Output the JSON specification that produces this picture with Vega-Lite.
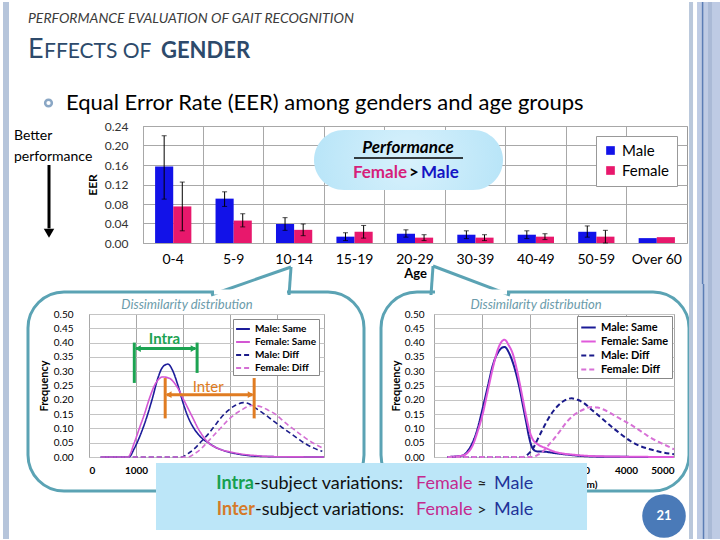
{
"$schema": "https://vega.github.io/schema/vega-lite/v6.json",
"background": "white",
"padding": {"left": 2, "top": 0, "right": 0, "bottom": 0},
"config": {"font": "Lato", "view": {"stroke": "#9A9A9A"}, "axis": {"domain": false, "ticks": false, "labelColor": "#000", "titleColor": "#000", "gridColor": "#B0B0B0"}},
"datasets": {
"eer": [
{"age":"0-4","g":"Male","eer":0.157,"lo":0.09,"hi":0.22},{"age":"0-4","g":"Female","eer":0.075,"lo":0.025,"hi":0.125},
{"age":"5-9","g":"Male","eer":0.091,"lo":0.075,"hi":0.105},{"age":"5-9","g":"Female","eer":0.046,"lo":0.033,"hi":0.06},
{"age":"10-14","g":"Male","eer":0.039,"lo":0.026,"hi":0.052},{"age":"10-14","g":"Female","eer":0.027,"lo":0.015,"hi":0.039},
{"age":"15-19","g":"Male","eer":0.013,"lo":0.005,"hi":0.021},{"age":"15-19","g":"Female","eer":0.023,"lo":0.01,"hi":0.036},
{"age":"20-29","g":"Male","eer":0.019,"lo":0.012,"hi":0.027},{"age":"20-29","g":"Female","eer":0.011,"lo":0.005,"hi":0.017},
{"age":"30-39","g":"Male","eer":0.017,"lo":0.009,"hi":0.025},{"age":"30-39","g":"Female","eer":0.011,"lo":0.005,"hi":0.017},
{"age":"40-49","g":"Male","eer":0.017,"lo":0.009,"hi":0.025},{"age":"40-49","g":"Female","eer":0.013,"lo":0.007,"hi":0.019},
{"age":"50-59","g":"Male","eer":0.023,"lo":0.012,"hi":0.035},{"age":"50-59","g":"Female","eer":0.013,"lo":0.0,"hi":0.026},
{"age":"Over 60","g":"Male","eer":0.010},{"age":"Over 60","g":"Female","eer":0.012}
],
"left": [
{"s":"Male: Same","d":250,"f":0},{"s":"Male: Same","d":850,"f":0},{"s":"Male: Same","d":964,"f":0.03},{"s":"Male: Same","d":1100,"f":0.08},{"s":"Male: Same","d":1250,"f":0.15},{"s":"Male: Same","d":1357,"f":0.21},{"s":"Male: Same","d":1464,"f":0.275},{"s":"Male: Same","d":1570,"f":0.315},{"s":"Male: Same","d":1679,"f":0.325},{"s":"Male: Same","d":1786,"f":0.3},{"s":"Male: Same","d":1893,"f":0.25},{"s":"Male: Same","d":2000,"f":0.19},{"s":"Male: Same","d":2107,"f":0.14},{"s":"Male: Same","d":2214,"f":0.105},{"s":"Male: Same","d":2321,"f":0.08},{"s":"Male: Same","d":2429,"f":0.062},{"s":"Male: Same","d":2536,"f":0.05},{"s":"Male: Same","d":2679,"f":0.035},{"s":"Male: Same","d":2821,"f":0.025},{"s":"Male: Same","d":3000,"f":0.016},{"s":"Male: Same","d":3179,"f":0.01},{"s":"Male: Same","d":3536,"f":0.003},{"s":"Male: Same","d":4000,"f":0.001},{"s":"Male: Same","d":5000,"f":0},
{"s":"Female: Same","d":250,"f":0},{"s":"Female: Same","d":830,"f":0},{"s":"Female: Same","d":964,"f":0.05},{"s":"Female: Same","d":1071,"f":0.1},{"s":"Female: Same","d":1179,"f":0.15},{"s":"Female: Same","d":1286,"f":0.205},{"s":"Female: Same","d":1393,"f":0.25},{"s":"Female: Same","d":1482,"f":0.272},{"s":"Female: Same","d":1571,"f":0.28},{"s":"Female: Same","d":1714,"f":0.275},{"s":"Female: Same","d":1800,"f":0.262},{"s":"Female: Same","d":1893,"f":0.24},{"s":"Female: Same","d":2000,"f":0.205},{"s":"Female: Same","d":2107,"f":0.17},{"s":"Female: Same","d":2214,"f":0.135},{"s":"Female: Same","d":2321,"f":0.1},{"s":"Female: Same","d":2429,"f":0.072},{"s":"Female: Same","d":2536,"f":0.05},{"s":"Female: Same","d":2679,"f":0.035},{"s":"Female: Same","d":2821,"f":0.025},{"s":"Female: Same","d":3000,"f":0.018},{"s":"Female: Same","d":3179,"f":0.012},{"s":"Female: Same","d":3536,"f":0.005},{"s":"Female: Same","d":4000,"f":0.001},{"s":"Female: Same","d":5000,"f":0},
{"s":"Male: Diff","d":250,"f":0},{"s":"Male: Diff","d":1964,"f":0},{"s":"Male: Diff","d":2107,"f":0.012},{"s":"Male: Diff","d":2250,"f":0.03},{"s":"Male: Diff","d":2393,"f":0.055},{"s":"Male: Diff","d":2536,"f":0.08},{"s":"Male: Diff","d":2679,"f":0.11},{"s":"Male: Diff","d":2821,"f":0.14},{"s":"Male: Diff","d":2964,"f":0.163},{"s":"Male: Diff","d":3107,"f":0.18},{"s":"Male: Diff","d":3286,"f":0.19},{"s":"Male: Diff","d":3400,"f":0.186},{"s":"Male: Diff","d":3536,"f":0.172},{"s":"Male: Diff","d":3714,"f":0.152},{"s":"Male: Diff","d":3893,"f":0.13},{"s":"Male: Diff","d":4071,"f":0.108},{"s":"Male: Diff","d":4250,"f":0.087},{"s":"Male: Diff","d":4429,"f":0.066},{"s":"Male: Diff","d":4607,"f":0.046},{"s":"Male: Diff","d":4786,"f":0.031},{"s":"Male: Diff","d":4964,"f":0.02},
{"s":"Female: Diff","d":250,"f":0},{"s":"Female: Diff","d":2107,"f":0},{"s":"Female: Diff","d":2250,"f":0.012},{"s":"Female: Diff","d":2393,"f":0.03},{"s":"Female: Diff","d":2536,"f":0.055},{"s":"Female: Diff","d":2679,"f":0.08},{"s":"Female: Diff","d":2821,"f":0.105},{"s":"Female: Diff","d":2964,"f":0.13},{"s":"Female: Diff","d":3107,"f":0.15},{"s":"Female: Diff","d":3250,"f":0.165},{"s":"Female: Diff","d":3357,"f":0.175},{"s":"Female: Diff","d":3464,"f":0.18},{"s":"Female: Diff","d":3571,"f":0.179},{"s":"Female: Diff","d":3679,"f":0.175},{"s":"Female: Diff","d":3821,"f":0.163},{"s":"Female: Diff","d":3964,"f":0.15},{"s":"Female: Diff","d":4107,"f":0.13},{"s":"Female: Diff","d":4250,"f":0.11},{"s":"Female: Diff","d":4429,"f":0.088},{"s":"Female: Diff","d":4607,"f":0.066},{"s":"Female: Diff","d":4786,"f":0.047},{"s":"Female: Diff","d":4964,"f":0.032}
],
"right": [
{"s":"Male: Same","d":280,"f":0},{"s":"Male: Same","d":594,"f":0.005},{"s":"Male: Same","d":700,"f":0.02},{"s":"Male: Same","d":804,"f":0.05},{"s":"Male: Same","d":910,"f":0.1},{"s":"Male: Same","d":1014,"f":0.17},{"s":"Male: Same","d":1119,"f":0.245},{"s":"Male: Same","d":1224,"f":0.32},{"s":"Male: Same","d":1350,"f":0.37},{"s":"Male: Same","d":1469,"f":0.385},{"s":"Male: Same","d":1560,"f":0.365},{"s":"Male: Same","d":1643,"f":0.33},{"s":"Male: Same","d":1713,"f":0.29},{"s":"Male: Same","d":1783,"f":0.24},{"s":"Male: Same","d":1853,"f":0.18},{"s":"Male: Same","d":1923,"f":0.12},{"s":"Male: Same","d":1980,"f":0.07},{"s":"Male: Same","d":2028,"f":0.04},{"s":"Male: Same","d":2080,"f":0.025},{"s":"Male: Same","d":2133,"f":0.02},{"s":"Male: Same","d":2343,"f":0.018},{"s":"Male: Same","d":2500,"f":0.014},{"s":"Male: Same","d":2692,"f":0.01},{"s":"Male: Same","d":3042,"f":0.004},{"s":"Male: Same","d":3500,"f":0.001},{"s":"Male: Same","d":5000,"f":0},
{"s":"Female: Same","d":280,"f":0},{"s":"Female: Same","d":594,"f":0.005},{"s":"Female: Same","d":700,"f":0.015},{"s":"Female: Same","d":804,"f":0.04},{"s":"Female: Same","d":910,"f":0.09},{"s":"Female: Same","d":1014,"f":0.15},{"s":"Female: Same","d":1119,"f":0.23},{"s":"Female: Same","d":1224,"f":0.31},{"s":"Female: Same","d":1350,"f":0.385},{"s":"Female: Same","d":1469,"f":0.41},{"s":"Female: Same","d":1560,"f":0.39},{"s":"Female: Same","d":1643,"f":0.36},{"s":"Female: Same","d":1713,"f":0.315},{"s":"Female: Same","d":1783,"f":0.26},{"s":"Female: Same","d":1853,"f":0.2},{"s":"Female: Same","d":1923,"f":0.14},{"s":"Female: Same","d":1993,"f":0.09},{"s":"Female: Same","d":2063,"f":0.06},{"s":"Female: Same","d":2133,"f":0.048},{"s":"Female: Same","d":2203,"f":0.04},{"s":"Female: Same","d":2343,"f":0.03},{"s":"Female: Same","d":2483,"f":0.02},{"s":"Female: Same","d":2692,"f":0.012},{"s":"Female: Same","d":2902,"f":0.008},{"s":"Female: Same","d":3200,"f":0.004},{"s":"Female: Same","d":3600,"f":0.002},{"s":"Female: Same","d":5000,"f":0},
{"s":"Male: Diff","d":280,"f":0},{"s":"Male: Diff","d":1853,"f":0},{"s":"Male: Diff","d":1960,"f":0.01},{"s":"Male: Diff","d":2063,"f":0.03},{"s":"Male: Diff","d":2168,"f":0.065},{"s":"Male: Diff","d":2273,"f":0.1},{"s":"Male: Diff","d":2378,"f":0.133},{"s":"Male: Diff","d":2483,"f":0.16},{"s":"Male: Diff","d":2587,"f":0.18},{"s":"Male: Diff","d":2692,"f":0.195},{"s":"Male: Diff","d":2867,"f":0.205},{"s":"Male: Diff","d":2990,"f":0.2},{"s":"Male: Diff","d":3112,"f":0.19},{"s":"Male: Diff","d":3252,"f":0.17},{"s":"Male: Diff","d":3392,"f":0.15},{"s":"Male: Diff","d":3566,"f":0.125},{"s":"Male: Diff","d":3741,"f":0.1},{"s":"Male: Diff","d":3916,"f":0.077},{"s":"Male: Diff","d":4091,"f":0.056},{"s":"Male: Diff","d":4266,"f":0.04},{"s":"Male: Diff","d":4441,"f":0.03},{"s":"Male: Diff","d":4616,"f":0.022},{"s":"Male: Diff","d":4790,"f":0.015},{"s":"Male: Diff","d":5000,"f":0.01},
{"s":"Female: Diff","d":280,"f":0},{"s":"Female: Diff","d":2063,"f":0},{"s":"Female: Diff","d":2168,"f":0.008},{"s":"Female: Diff","d":2273,"f":0.02},{"s":"Female: Diff","d":2378,"f":0.04},{"s":"Female: Diff","d":2483,"f":0.06},{"s":"Female: Diff","d":2622,"f":0.09},{"s":"Female: Diff","d":2762,"f":0.122},{"s":"Female: Diff","d":2902,"f":0.145},{"s":"Female: Diff","d":3042,"f":0.16},{"s":"Female: Diff","d":3165,"f":0.17},{"s":"Female: Diff","d":3287,"f":0.175},{"s":"Female: Diff","d":3409,"f":0.173},{"s":"Female: Diff","d":3531,"f":0.166},{"s":"Female: Diff","d":3671,"f":0.154},{"s":"Female: Diff","d":3811,"f":0.14},{"s":"Female: Diff","d":3951,"f":0.127},{"s":"Female: Diff","d":4091,"f":0.114},{"s":"Female: Diff","d":4266,"f":0.095},{"s":"Female: Diff","d":4441,"f":0.075},{"s":"Female: Diff","d":4616,"f":0.058},{"s":"Female: Diff","d":4790,"f":0.044},{"s":"Female: Diff","d":5000,"f":0.027}
]
},
"resolve": {"scale": {"color": "independent", "strokeDash": "independent"}, "legend": {"color": "independent", "strokeDash": "independent"}},
"concat": [
{
"resolve": {"scale": {"color": "independent"}, "legend": {"color": "independent"}},
"concat": [
{
"width": 54, "height": 117,
"view": {"stroke": null},
"data": {"values": [{}]},
"layer": [
{"mark": {"type": "rect", "color": "#B6C5DB"}, "encoding": {"x": {"datum": -1.5926, "scale": {"domain": [0, 1], "nice": false}, "axis": null}, "x2": {"datum": -1.4815}, "y": {"datum": 0.4944, "scale": {"domain": [0, 0.24], "nice": false}, "axis": null}, "y2": {"datum": -0.121}}},
{"mark": {"type": "text", "text": "PERFORMANCE EVALUATION OF GAIT RECOGNITION", "align": "left", "fontSize": 14, "fontStyle": "italic", "color": "#3C3C3C"}, "encoding": {"x": {"datum": -1.1296}, "y": {"datum": 0.4595}}},
{"mark": {"type": "text", "text": "E", "align": "left", "baseline": "alphabetic", "fontSize": 27, "color": "#2D4A6B"}, "encoding": {"x": {"datum": -1.1296}, "y": {"datum": 0.3795}}},
{"mark": {"type": "text", "text": "FFECTS OF", "align": "left", "baseline": "alphabetic", "fontSize": 21, "color": "#2D4A6B"}, "encoding": {"x": {"datum": -0.8333}, "y": {"datum": 0.3795}}},
{"mark": {"type": "text", "text": "GENDER", "align": "left", "baseline": "alphabetic", "fontSize": 22, "fontWeight": "bold", "color": "#2D4A6B"}, "encoding": {"x": {"datum": 1.3333}, "y": {"datum": 0.3795}}},
{"mark": {"type": "point", "shape": "circle", "filled": false, "color": "#5A82AD", "strokeWidth": 2.5, "size": 45}, "encoding": {"x": {"datum": -0.75}, "y": {"datum": 0.2872}}},
{"mark": {"type": "text", "text": "Equal Error Rate (EER) among genders and age groups", "align": "left", "fontSize": 22, "color": "#000"}, "encoding": {"x": {"datum": -0.4259}, "y": {"datum": 0.2872}}},
{"mark": {"type": "text", "text": "Better", "align": "left", "fontSize": 14, "color": "#000"}, "encoding": {"x": {"datum": -1.3889}, "y": {"datum": 0.2195}}},
{"mark": {"type": "text", "text": "performance", "align": "left", "fontSize": 14, "color": "#000"}, "encoding": {"x": {"datum": -1.3889}, "y": {"datum": 0.1764}}},
{"mark": {"type": "rule", "color": "#000", "strokeWidth": 3}, "encoding": {"x": {"datum": -0.7407}, "y": {"datum": 0.16}, "y2": {"datum": 0.03}}},
{"mark": {"type": "point", "shape": "triangle-down", "filled": true, "color": "#000", "size": 110, "opacity": 1}, "encoding": {"x": {"datum": -0.7407}, "y": {"datum": 0.02}}}
]
},
{
"width": 544, "height": 117,
"layer": [
{
"data": {"name": "eer"},
"layer": [
{"mark": {"type": "bar"},
 "encoding": {
  "x": {"field": "age", "type": "nominal", "sort": ["0-4","5-9","10-14","15-19","20-29","30-39","40-49","50-59","Over 60"], "scale": {"paddingInner": 0, "paddingOuter": 0}, "axis": {"title": "Age", "orient": "bottom", "labelAngle": 0, "labelFontSize": 14, "labelPadding": 9, "titleFontSize": 13, "titleFontWeight": "bold", "titlePadding": 1, "grid": true, "gridColor": "#A8A8A8", "bandPosition": 0}},
  "xOffset": {"field": "g", "type": "nominal", "sort": ["Male","Female"], "scale": {"paddingInner": 0, "paddingOuter": 0.667}},
  "y": {"field": "eer", "type": "quantitative", "scale": {"domain": [0, 0.24], "nice": false}, "axis": {"orient": "left", "values": [0,0.04,0.08,0.12,0.16,0.2,0.24], "format": ".2f", "title": "EER", "titleFontSize": 12, "titleFontWeight": "bold", "titlePadding": 5, "labelFontSize": 12, "labelPadding": 15, "labelColor": "#333", "labelOverlap": false, "grid": true, "gridColor": "#A8A8A8"}},
  "color": {"field": "g", "type": "nominal", "sort": ["Male","Female"], "scale": {"domain": ["Male","Female"], "range": ["#1212E8","#E8186C"]}, "legend": {"title": null, "orient": "top-right", "offset": 10, "fillColor": "#FFFFFF", "strokeColor": "#999999", "padding": 7, "symbolType": "square", "symbolSize": 75, "labelFontSize": 15, "labelColor": "#000", "rowPadding": 4}}
 }},
{"mark": {"type": "rule", "color": "#000", "strokeWidth": 1},
 "encoding": {
  "x": {"field": "age", "type": "nominal", "sort": ["0-4","5-9","10-14","15-19","20-29","30-39","40-49","50-59","Over 60"], "axis": {"title": "Age", "orient": "bottom", "labelAngle": 0, "labelFontSize": 14, "labelPadding": 9, "titleFontSize": 13, "titleFontWeight": "bold", "titlePadding": 1, "grid": true, "gridColor": "#A8A8A8", "bandPosition": 0}},
  "xOffset": {"field": "g", "type": "nominal", "sort": ["Male","Female"]},
  "y": {"field": "lo", "type": "quantitative", "axis": {"orient": "left", "values": [0,0.04,0.08,0.12,0.16,0.2,0.24], "format": ".2f", "title": "EER", "titleFontSize": 12, "titleFontWeight": "bold", "titlePadding": 5, "labelFontSize": 12, "labelPadding": 15, "labelColor": "#333", "labelOverlap": false, "grid": true, "gridColor": "#A8A8A8"}}, "y2": {"field": "hi"}
 }},
{"mark": {"type": "tick", "color": "#000", "size": 5, "thickness": 1},
 "encoding": {
  "x": {"field": "age", "type": "nominal", "sort": ["0-4","5-9","10-14","15-19","20-29","30-39","40-49","50-59","Over 60"], "axis": {"title": "Age", "orient": "bottom", "labelAngle": 0, "labelFontSize": 14, "labelPadding": 9, "titleFontSize": 13, "titleFontWeight": "bold", "titlePadding": 1, "grid": true, "gridColor": "#A8A8A8", "bandPosition": 0}},
  "xOffset": {"field": "g", "type": "nominal", "sort": ["Male","Female"]},
  "y": {"field": "hi", "type": "quantitative", "axis": {"orient": "left", "values": [0,0.04,0.08,0.12,0.16,0.2,0.24], "format": ".2f", "title": "EER", "titleFontSize": 12, "titleFontWeight": "bold", "titlePadding": 5, "labelFontSize": 12, "labelPadding": 15, "labelColor": "#333", "labelOverlap": false, "grid": true, "gridColor": "#A8A8A8"}}
 }},
{"mark": {"type": "tick", "color": "#000", "size": 5, "thickness": 1},
 "encoding": {
  "x": {"field": "age", "type": "nominal", "sort": ["0-4","5-9","10-14","15-19","20-29","30-39","40-49","50-59","Over 60"], "axis": {"title": "Age", "orient": "bottom", "labelAngle": 0, "labelFontSize": 14, "labelPadding": 9, "titleFontSize": 13, "titleFontWeight": "bold", "titlePadding": 1, "grid": true, "gridColor": "#A8A8A8", "bandPosition": 0}},
  "xOffset": {"field": "g", "type": "nominal", "sort": ["Male","Female"]},
  "y": {"field": "lo", "type": "quantitative", "axis": {"orient": "left", "values": [0,0.04,0.08,0.12,0.16,0.2,0.24], "format": ".2f", "title": "EER", "titleFontSize": 12, "titleFontWeight": "bold", "titlePadding": 5, "labelFontSize": 12, "labelPadding": 15, "labelColor": "#333", "labelOverlap": false, "grid": true, "gridColor": "#A8A8A8"}}
 }}
]
},
{
"data": {"values": [{}]},
"layer": [
{"mark": {"type": "rect", "cornerRadius": 30, "fill": {"gradient": "radial", "x1": 0.5, "y1": 0.5, "x2": 0.5, "y2": 0.5, "r1": 0, "r2": 0.75, "stops": [{"offset": 0, "color": "#D8F1FC"}, {"offset": 1, "color": "#A9DFF6"}]}}, "encoding": {"x": {"datum": 2.829, "scale": {"domain": [0, 9], "nice": false}, "axis": null}, "x2": {"datum": 5.956}, "y": {"datum": 0.2318, "scale": {"domain": [0, 0.24], "nice": false}, "axis": null}, "y2": {"datum": 0.1087}}},
{"mark": {"type": "text", "text": "Performance", "fontSize": 17, "fontWeight": "bold", "fontStyle": "italic", "color": "#000"}, "encoding": {"x": {"datum": 4.384}, "y": {"datum": 0.1949}}},
{"mark": {"type": "rule", "color": "#000", "strokeWidth": 1.5}, "encoding": {"x": {"datum": 3.491}, "x2": {"datum": 5.294}, "y": {"datum": 0.1744}}},
{"mark": {"type": "text", "text": "Female", "align": "right", "fontSize": 17, "fontWeight": "bold", "color": "#D61F7B"}, "encoding": {"x": {"datum": 4.368}, "y": {"datum": 0.1436}}},
{"mark": {"type": "text", "text": ">", "fontSize": 17, "fontWeight": "bold", "color": "#000"}, "encoding": {"x": {"datum": 4.484}, "y": {"datum": 0.1436}}},
{"mark": {"type": "text", "text": "Male", "align": "left", "fontSize": 17, "fontWeight": "bold", "color": "#1414C4"}, "encoding": {"x": {"datum": 4.599}, "y": {"datum": 0.1436}}},
{"mark": {"type": "rule", "color": "#5BA3B4", "strokeWidth": 3}, "encoding": {"x": {"datum": 1.125}, "y": {"datum": -0.1067}, "x2": {"datum": 2.449}, "y2": {"datum": -0.0492}}},
{"mark": {"type": "rule", "color": "#5BA3B4", "strokeWidth": 3}, "encoding": {"x": {"datum": 2.449}, "y": {"datum": -0.0492}, "x2": {"datum": 2.416}, "y2": {"datum": -0.1067}}},
{"mark": {"type": "rule", "color": "#5BA3B4", "strokeWidth": 3}, "encoding": {"x": {"datum": 4.765}, "y": {"datum": -0.1067}, "x2": {"datum": 4.798}, "y2": {"datum": -0.0472}}},
{"mark": {"type": "rule", "color": "#5BA3B4", "strokeWidth": 3}, "encoding": {"x": {"datum": 4.798}, "y": {"datum": -0.0472}, "x2": {"datum": 6.072}, "y2": {"datum": -0.1067}}},
{"mark": {"type": "rect", "color": "#B9C7DB"}, "encoding": {"x": {"datum": 9.0337}, "x2": {"datum": 9.0999}, "y": {"datum": 0.4944}, "y2": {"datum": -0.121}}},
{"mark": {"type": "rect", "color": "#BECBE4"}, "encoding": {"x": {"datum": 9.166}, "x2": {"datum": 9.563}, "y": {"datum": 0.4944}, "y2": {"datum": -0.121}}},
{"mark": {"type": "rect", "color": "#AABAD6"}, "encoding": {"x": {"datum": 9.348}, "x2": {"datum": 9.414}, "y": {"datum": 0.4944}, "y2": {"datum": -0.121}}},
{"mark": {"type": "rule", "color": "#5B7DB5", "strokeWidth": 1.5}, "encoding": {"x": {"datum": 9.258}, "y": {"datum": 0.4944}, "y2": {"datum": -0.121}}}
]
}
],
"resolve": {"scale": {"x": "independent", "y": "independent"}}
}
],
"columns": 2, "bounds": "flush", "align": "each", "spacing": 0
},
{
"resolve": {"scale": {"color": "independent", "strokeDash": "independent"}, "legend": {"color": "independent", "strokeDash": "independent"}},
"concat": [
{
"width": 235, "height": 143,
"layer": [
{
"data": {"values": [{}]},
"layer": [
{"mark": {"type": "rect", "filled": false, "color": "#5BA3B4", "strokeWidth": 3, "cornerRadius": 36}, "encoding": {"x": {"datum": -1298, "scale": {"domain": [0, 5000], "nice": false}, "axis": null}, "x2": {"datum": 5851}, "y": {"datum": 0.5769, "scale": {"domain": [0, 0.5], "nice": false}, "axis": null}, "y2": {"datum": -0.1189}}},
{"mark": {"type": "rule", "color": "#FFFFFF", "strokeWidth": 5}, "encoding": {"x": {"datum": 2660}, "x2": {"datum": 4213}, "y": {"datum": 0.5769}}},
{"mark": {"type": "rect", "color": "#B6C5DB"}, "encoding": {"x": {"datum": -1830}, "x2": {"datum": -1702}, "y": {"datum": 0.6049}, "y2": {"datum": -0.2867}}},
{"mark": {"type": "text", "text": "Dissimilarity distribution", "fontSize": 13, "fontStyle": "italic", "color": "#6B9BAA"}, "encoding": {"x": {"datum": 2085}, "y": {"datum": 0.5315}}}
]
},
{
"data": {"name": "left"},
"mark": {"type": "line", "strokeWidth": 1.6, "interpolate": "monotone"},
"encoding": {
 "x": {"field": "d", "type": "quantitative", "scale": {"domain": [0, 5000], "nice": false}, "axis": {"orient": "bottom", "values": [0,1000,2000,3000,4000,5000], "format": "d", "title": "Dissimilarity (norm)", "titleFontSize": 10, "titleFontWeight": "bold", "labelFontSize": 10, "labelFontWeight": "bold", "labelPadding": 8, "grid": true, "gridColor": "#A8A8A8"}},
 "y": {"field": "f", "type": "quantitative", "scale": {"domain": [0, 0.5], "nice": false}, "axis": {"orient": "left", "values": [0,0.05,0.1,0.15,0.2,0.25,0.3,0.35,0.4,0.45,0.5], "format": ".2f", "title": "Frequency", "titleFontSize": 11, "titleFontWeight": "bold", "titlePadding": 4, "labelFontSize": 10, "labelPadding": 16, "labelOverlap": false, "grid": true, "gridColor": "#C4C4C4"}},
 "color": {"field": "s", "type": "nominal", "scale": {"domain": ["Male: Same","Female: Same","Male: Diff","Female: Diff"], "range": ["#1C1C9A","#D357D3","#1C1C8A","#D46FD4"]}, "legend": {"title": null, "orient": "top-right", "offset": 5, "fillColor": "#FFFFFF", "strokeColor": "#888888", "padding": 2, "symbolType": "stroke", "symbolSize": 190, "symbolStrokeWidth": 2, "labelFontSize": 10, "labelFontWeight": "bold", "labelColor": "#000", "rowPadding": 0}},
 "strokeDash": {"field": "s", "type": "nominal", "scale": {"domain": ["Male: Same","Female: Same","Male: Diff","Female: Diff"], "range": [[1,0],[1,0],[5,3],[5,3]]}, "legend": {"title": null, "orient": "top-right", "offset": 5, "fillColor": "#FFFFFF", "strokeColor": "#888888", "padding": 2, "symbolType": "stroke", "symbolSize": 190, "symbolStrokeWidth": 2, "labelFontSize": 10, "labelFontWeight": "bold", "labelColor": "#000", "rowPadding": 0}}
}
},
{
"data": {"values": [{}]},
"layer": [
{"mark": {"type": "rule", "color": "#1CA352", "strokeWidth": 3}, "encoding": {"x": {"datum": 964, "scale": {"domain": [0, 5000], "nice": false}, "axis": null}, "y": {"datum": 0.259, "scale": {"domain": [0, 0.5], "nice": false}, "axis": null}, "y2": {"datum": 0.4}}},
{"mark": {"type": "rule", "color": "#1CA352", "strokeWidth": 3}, "encoding": {"x": {"datum": 2300}, "y": {"datum": 0.294}, "y2": {"datum": 0.4}}},
{"mark": {"type": "rule", "color": "#1CA352", "strokeWidth": 3}, "encoding": {"x": {"datum": 1000}, "x2": {"datum": 2265}, "y": {"datum": 0.379}}},
{"mark": {"type": "point", "shape": "triangle-left", "filled": true, "color": "#1CA352", "size": 45, "opacity": 1}, "encoding": {"x": {"datum": 1040}, "y": {"datum": 0.379}}},
{"mark": {"type": "point", "shape": "triangle-right", "filled": true, "color": "#1CA352", "size": 45, "opacity": 1}, "encoding": {"x": {"datum": 2225}, "y": {"datum": 0.379}}},
{"mark": {"type": "text", "text": "Intra", "fontSize": 15, "fontWeight": "bold", "color": "#1CA352"}, "encoding": {"x": {"datum": 1607}, "y": {"datum": 0.412}}},
{"mark": {"type": "rule", "color": "#E07C22", "strokeWidth": 3}, "encoding": {"x": {"datum": 1621}, "y": {"datum": 0.135}, "y2": {"datum": 0.276}}},
{"mark": {"type": "rule", "color": "#E07C22", "strokeWidth": 3}, "encoding": {"x": {"datum": 3514}, "y": {"datum": 0.135}, "y2": {"datum": 0.276}}},
{"mark": {"type": "rule", "color": "#E07C22", "strokeWidth": 3}, "encoding": {"x": {"datum": 1655}, "x2": {"datum": 3480}, "y": {"datum": 0.218}}},
{"mark": {"type": "point", "shape": "triangle-left", "filled": true, "color": "#E07C22", "size": 45, "opacity": 1}, "encoding": {"x": {"datum": 1695}, "y": {"datum": 0.218}}},
{"mark": {"type": "point", "shape": "triangle-right", "filled": true, "color": "#E07C22", "size": 45, "opacity": 1}, "encoding": {"x": {"datum": 3440}, "y": {"datum": 0.218}}},
{"mark": {"type": "text", "text": "Inter", "fontSize": 15, "color": "#E07C22"}, "encoding": {"x": {"datum": 2536}, "y": {"datum": 0.245}}}
]
}
],
"resolve": {"scale": {"x": "independent", "y": "independent"}}
},
{
"width": 240, "height": 143,
"layer": [
{
"data": {"values": [{}]},
"layer": [
{"mark": {"type": "rect", "filled": false, "color": "#5BA3B4", "strokeWidth": 3, "cornerRadius": 36}, "encoding": {"x": {"datum": -1104, "scale": {"domain": [0, 5000], "nice": false}, "axis": null}, "x2": {"datum": 5313}, "y": {"datum": 0.5769, "scale": {"domain": [0, 0.5], "nice": false}, "axis": null}, "y2": {"datum": -0.1189}}},
{"mark": {"type": "rule", "color": "#FFFFFF", "strokeWidth": 5}, "encoding": {"x": {"datum": 21}, "x2": {"datum": 1521}, "y": {"datum": 0.5769}}},
{"mark": {"type": "rect", "color": "#B9C7DB"}, "encoding": {"x": {"datum": 5313}, "x2": {"datum": 5396}, "y": {"datum": 0.6049}, "y2": {"datum": -0.2867}}},
{"mark": {"type": "rect", "color": "#BECBE4"}, "encoding": {"x": {"datum": 5479}, "x2": {"datum": 5979}, "y": {"datum": 0.6049}, "y2": {"datum": -0.2867}}},
{"mark": {"type": "rect", "color": "#AABAD6"}, "encoding": {"x": {"datum": 5708}, "x2": {"datum": 5792}, "y": {"datum": 0.6049}, "y2": {"datum": -0.2867}}},
{"mark": {"type": "rule", "color": "#5B7DB5", "strokeWidth": 1.5}, "encoding": {"x": {"datum": 5615}, "y": {"datum": 0.6049}, "y2": {"datum": -0.2867}}},
{"mark": {"type": "text", "text": "Dissimilarity distribution", "fontSize": 13, "fontStyle": "italic", "color": "#6B9BAA"}, "encoding": {"x": {"datum": 2125}, "y": {"datum": 0.5315}}}
]
},
{
"data": {"name": "right"},
"mark": {"type": "line", "strokeWidth": 2, "interpolate": "monotone"},
"encoding": {
 "x": {"field": "d", "type": "quantitative", "scale": {"domain": [0, 5000], "nice": false}, "axis": {"orient": "bottom", "values": [0,1000,2000,3000,4000,5000], "format": "d", "title": "Dissimilarity (norm)", "titleFontSize": 10, "titleFontWeight": "bold", "labelFontSize": 10, "labelFontWeight": "bold", "labelPadding": 8, "grid": true, "gridColor": "#A8A8A8"}},
 "y": {"field": "f", "type": "quantitative", "scale": {"domain": [0, 0.5], "nice": false}, "axis": {"orient": "left", "values": [0,0.05,0.1,0.15,0.2,0.25,0.3,0.35,0.4,0.45,0.5], "format": ".2f", "title": "Frequency", "titleFontSize": 11, "titleFontWeight": "bold", "titlePadding": 3, "labelFontSize": 10, "labelPadding": 10, "labelOverlap": false, "grid": true, "gridColor": "#C4C4C4"}},
 "color": {"field": "s", "type": "nominal", "scale": {"domain": ["Male: Same","Female: Same","Male: Diff","Female: Diff"], "range": ["#1A1A96","#E05ADB","#1A1A8A","#D770D6"]}, "legend": {"title": null, "orient": "top-right", "offset": 2, "fillColor": "#FFFFFF", "strokeColor": "#888888", "padding": 3, "symbolType": "stroke", "symbolSize": 210, "symbolStrokeWidth": 2, "labelFontSize": 11, "labelFontWeight": "bold", "labelColor": "#000", "rowPadding": 0}},
 "strokeDash": {"field": "s", "type": "nominal", "scale": {"domain": ["Male: Same","Female: Same","Male: Diff","Female: Diff"], "range": [[1,0],[1,0],[5,3],[5,3]]}, "legend": {"title": null, "orient": "top-right", "offset": 2, "fillColor": "#FFFFFF", "strokeColor": "#888888", "padding": 3, "symbolType": "stroke", "symbolSize": 210, "symbolStrokeWidth": 2, "labelFontSize": 11, "labelFontWeight": "bold", "labelColor": "#000", "rowPadding": 0}}
}
},
{
"data": {"values": [{}]},
"layer": [
{"mark": {"type": "rect", "color": "#BCE6F8"}, "encoding": {"x": {"datum": -5792, "scale": {"domain": [0, 5000], "nice": false}, "axis": null}, "x2": {"datum": 3188}, "y": {"datum": -0.021, "scale": {"domain": [0, 0.5], "nice": false}, "axis": null}, "y2": {"datum": -0.2552}}},
{"mark": {"type": "text", "text": "Intra", "align": "right", "fontSize": 18, "fontWeight": "bold", "color": "#16A04E"}, "encoding": {"x": {"datum": -3750}, "y": {"datum": -0.0944}}},
{"mark": {"type": "text", "text": "-subject variations:", "align": "left", "fontSize": 18, "color": "#111"}, "encoding": {"x": {"datum": -3750}, "y": {"datum": -0.0944}}},
{"mark": {"type": "text", "text": "Female", "align": "left", "fontSize": 18, "color": "#C42A8E"}, "encoding": {"x": {"datum": -375}, "y": {"datum": -0.0944}}},
{"mark": {"type": "text", "text": "≈", "fontSize": 16, "color": "#222"}, "encoding": {"x": {"datum": 1000}, "y": {"datum": -0.0944}}},
{"mark": {"type": "text", "text": "Male", "align": "left", "fontSize": 18, "color": "#1F3399"}, "encoding": {"x": {"datum": 1250}, "y": {"datum": -0.0944}}},
{"mark": {"type": "text", "text": "Inter", "align": "right", "fontSize": 18, "fontWeight": "bold", "color": "#D57A2A"}, "encoding": {"x": {"datum": -3730}, "y": {"datum": -0.1853}}},
{"mark": {"type": "text", "text": "-subject variations:", "align": "left", "fontSize": 18, "color": "#111"}, "encoding": {"x": {"datum": -3730}, "y": {"datum": -0.1853}}},
{"mark": {"type": "text", "text": "Female", "align": "left", "fontSize": 18, "color": "#C42A8E"}, "encoding": {"x": {"datum": -375}, "y": {"datum": -0.1853}}},
{"mark": {"type": "text", "text": ">", "fontSize": 16, "color": "#222"}, "encoding": {"x": {"datum": 1000}, "y": {"datum": -0.1853}}},
{"mark": {"type": "text", "text": "Male", "align": "left", "fontSize": 18, "color": "#1F3399"}, "encoding": {"x": {"datum": 1250}, "y": {"datum": -0.1853}}},
{"mark": {"type": "point", "shape": "circle", "filled": true, "color": "#4A7AB8", "size": 1900, "opacity": 1}, "encoding": {"x": {"datum": 4792}, "y": {"datum": -0.2063}}},
{"mark": {"type": "text", "text": "21", "fontSize": 13, "fontWeight": "bold", "color": "#FFFFFF"}, "encoding": {"x": {"datum": 4792}, "y": {"datum": -0.2063}}}
]
}
],
"resolve": {"scale": {"x": "independent", "y": "independent"}}
}
],
"columns": 2, "bounds": "flush", "align": "each", "spacing": 110
}
],
"columns": 1, "bounds": "full", "align": "each", "spacing": -22
}
